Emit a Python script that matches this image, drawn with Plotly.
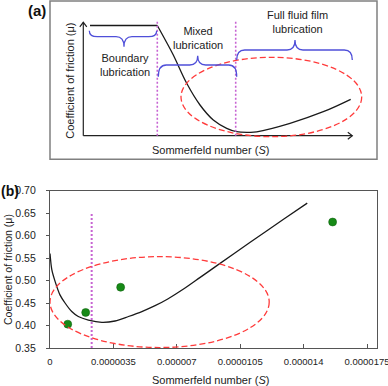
import plotly.graph_objects as go

# ---------------- Panel (b) data ----------------
S_fit_e6 = [0, 0.1, 0.28, 0.55, 0.83, 1.2, 1.56, 2.12, 2.86, 3.59, 4.33, 5.07, 5.8, 6.5, 7.37, 8.29, 9.21, 11.05, 12.89, 14.2]
mu_fit = [0.56, 0.524, 0.498, 0.468, 0.45, 0.431, 0.42, 0.412, 0.407, 0.41, 0.42, 0.431, 0.444, 0.459, 0.481, 0.507, 0.533, 0.585, 0.636, 0.672]
S_meas_e6 = [0.98, 1.97, 3.9, 15.6]
mu_meas = [0.403, 0.429, 0.485, 0.63]
S_transition_e6 = 2.3
mu_transition_top = 0.648
ellipse_b_S_e6 = [0.0, 12.1]
ellipse_b_mu = [0.351, 0.553]
x_tickvals_e6 = [0, 3.5, 7, 10.5, 14, 17.5]
x_ticktext = ["0", "0.0000035", "0.000007", "0.0000105", "0.000014", "0.0000175"]
y_ticks = [0.35, 0.40, 0.45, 0.50, 0.55, 0.60, 0.65, 0.70]

# ---------------- Panel (a) schematic (arbitrary units) ----------------
a_flat_S = [40, 107.3]
a_flat_mu = [133.8, 133.8]
a_curve_S = [107.3, 115.3, 123.3, 136.7, 150, 163.3, 176.7, 186.7, 200, 206.7, 240, 273.3, 300.7]
a_curve_mu = [133.8, 119.3, 104.3, 76, 54.3, 39.3, 31, 27.6, 27, 27.5, 36, 47.6, 60]
a_origin = [33.3, 23.6]
a_xaxis_end = 302.3
a_yaxis_end = 137.0
a_regime_bounds = [107.3, 185.7]
a_regime_tops = [137.5, 139.3]
a_ellipse_S = [131, 311.7]
a_ellipse_mu = [22.6, 102]
# braces: (x0, x1, tip x, end y, body y, tip y)
a_braces = [
    (39.3, 106.7, 74, 128.6, 122.6, 112.6),
    (108.3, 186.7, 147.7, 82.6, 94.3, 103.6),
    (186.7, 302.3, 245, 99.3, 109.3, 119.3),
]
a_brace_labels = ["Boundary<br>lubrication", "Mixed<br>lubrication", "Full fluid film<br>lubrication"]
a_brace_label_pos = [(75, 94.3), (147.7, 121), (247.3, 137.3)]

FONT = "Liberation Sans Narrow, Arial Narrow, Liberation Sans, Arial, sans-serif"
BLUE = "#4F4FD9"
RED = "#FF3B3B"
PINK = "#C764D2"
GREEN = "#178A17"

S_fit = [v * 1e-6 for v in S_fit_e6]
S_meas = [v * 1e-6 for v in S_meas_e6]

fig = go.Figure()

# ---- panel (b) traces ----
fig.add_trace(go.Scatter(x=S_fit, y=mu_fit, mode="lines", line=dict(color="#1a1a1a", width=1.3, shape="spline", smoothing=0.8),
                         xaxis="x", yaxis="y", hoverinfo="skip"))
fig.add_trace(go.Scatter(x=[S_transition_e6 * 1e-6] * 2, y=[0.35, mu_transition_top], mode="lines",
                         line=dict(color=PINK, width=2, dash="2px,2px"), xaxis="x", yaxis="y"))
fig.add_trace(go.Scatter(x=S_meas, y=mu_meas, mode="markers",
                         marker=dict(color=GREEN, size=8, line=dict(color="#0d5c0d", width=0.5)),
                         xaxis="x", yaxis="y"))

# ---- panel (a) traces ----
fig.add_trace(go.Scatter(x=a_flat_S, y=a_flat_mu, mode="lines", line=dict(color="#1a1a1a", width=1.3),
                         xaxis="x2", yaxis="y2"))
fig.add_trace(go.Scatter(x=a_curve_S, y=a_curve_mu, mode="lines", line=dict(color="#1a1a1a", width=1.3, shape="spline"),
                         xaxis="x2", yaxis="y2"))
ox, oy = a_origin
# axes with chevron arrowheads
fig.add_trace(go.Scatter(x=[ox, ox, None, ox - 3.5, ox, ox + 3.5],
                         y=[oy, a_yaxis_end, None, a_yaxis_end - 4.5, a_yaxis_end, a_yaxis_end - 4.5],
                         mode="lines", line=dict(color="#222", width=1.2), xaxis="x2", yaxis="y2"))
fig.add_trace(go.Scatter(x=[ox, a_xaxis_end, None, a_xaxis_end - 4.5, a_xaxis_end, a_xaxis_end - 4.5],
                         y=[oy, oy, None, oy + 3.5, oy, oy - 3.5],
                         mode="lines", line=dict(color="#222", width=1.2), xaxis="x2", yaxis="y2"))
for bx, top in zip(a_regime_bounds, a_regime_tops):
    fig.add_trace(go.Scatter(x=[bx, bx], y=[oy, top], mode="lines",
                             line=dict(color=PINK, width=1.6, dash="2px,2px"), xaxis="x2", yaxis="y2"))

shapes = []
# panel (a) frame
shapes.append(dict(type="rect", xref="x2 domain", yref="y2 domain", x0=0, x1=1, y0=0, y1=1,
                   line=dict(color="#808080", width=1.5)))
# ellipses
shapes.append(dict(type="circle", xref="x", yref="y", x0=ellipse_b_S_e6[0] * 1e-6, x1=ellipse_b_S_e6[1] * 1e-6,
                   y0=ellipse_b_mu[0], y1=ellipse_b_mu[1], line=dict(color=RED, width=1.3, dash="6px,3px")))
shapes.append(dict(type="circle", xref="x2", yref="y2", x0=a_ellipse_S[0], x1=a_ellipse_S[1],
                   y0=a_ellipse_mu[0], y1=a_ellipse_mu[1], line=dict(color=RED, width=1.3, dash="6px,3px")))
# braces
r = 8
for (x0, x1, xt, ye, yb, yt) in a_braces:
    path = (f"M {x0},{ye} Q {x0},{yb} {x0 + r},{yb} L {xt - r},{yb} Q {xt},{yb} {xt},{yt} "
            f"Q {xt},{yb} {xt + r},{yb} L {x1 - r},{yb} Q {x1},{yb} {x1},{ye}")
    shapes.append(dict(type="path", xref="x2", yref="y2", path=path, line=dict(color=BLUE, width=1.3)))

C = dict(xanchor="center", yanchor="middle", showarrow=False)
annotations = []
for txt, (tx, ty) in zip(a_brace_labels, a_brace_label_pos):
    annotations.append(dict(text=txt, x=tx, y=ty, xref="x2", yref="y2",
                            font=dict(family=FONT, size=11, color="#222"), **C))
annotations += [
    dict(text="Coefficient of friction (μ)", x=20, y=78.6, xref="x2", yref="y2", textangle=-90,
         font=dict(family=FONT, size=11, color="#222"), **C),
    dict(text="Sommerfeld number (<i>S</i>)", x=160, y=9.3, xref="x2", yref="y2",
         font=dict(family=FONT, size=11, color="#222"), **C),
    dict(text="<b>(a)</b>", x=(37 - 50) / 327, y=(348 - 11) / 347, xref="paper", yref="paper",
         font=dict(family="Liberation Sans, Arial, sans-serif", size=15, color="#111"), **C),
    dict(text="<b>(b)</b>", x=(9.5 - 50) / 327, y=(348 - 191) / 347, xref="paper", yref="paper",
         font=dict(family="Liberation Sans, Arial, sans-serif", size=14, color="#111"), **C),
    dict(text="Coefficient of friction (μ)", x=(8 - 50) / 327, y=(348 - 270) / 347, xref="paper", yref="paper",
         textangle=-90, font=dict(family=FONT, size=10.5, color="#222"), **C),
    dict(text="Sommerfeld number (<i>S</i>)", x=(210 - 50) / 327, y=(348 - 380) / 347, xref="paper", yref="paper",
         font=dict(family=FONT, size=11, color="#222"), **C),
]

fig.update_layout(
    width=388, height=386,
    margin=dict(l=50, r=11, t=1, b=38, autoexpand=False),
    plot_bgcolor="white", paper_bgcolor="white",
    showlegend=False,
    shapes=shapes, annotations=annotations,
    font=dict(family=FONT, size=10, color="#222"),
    xaxis=dict(domain=[0, 1], anchor="y", range=[0, 18.05e-6], tickvals=[v * 1e-6 for v in x_tickvals_e6],
               ticktext=x_ticktext, ticks="inside", ticklen=4, tickcolor="#555", showgrid=False, zeroline=False,
               showline=True, mirror=True, linecolor="#555", linewidth=1.3, tickfont=dict(family=FONT, size=9.5),
               ticklabelstandoff=4, automargin=False, ticklabeloverflow="allow"),
    yaxis=dict(domain=[0, 157.5 / 347], anchor="x", range=[0.35, 0.70], tickvals=y_ticks, tickformat=".2f",
               ticks="outside", ticklen=3, tickcolor="#555", showgrid=False, zeroline=False,
               showline=True, mirror=True, linecolor="#555", linewidth=1.3, tickfont=dict(family=FONT, size=10.5),
               ticklabelstandoff=8, automargin=False, ticklabeloverflow="allow"),
    xaxis2=dict(domain=[0, 1], anchor="y2", range=[0, 327], visible=False, fixedrange=True, automargin=False),
    yaxis2=dict(domain=[(348 - 159.3) / 347, 1], anchor="x2", range=[0, 158.3], visible=False, fixedrange=True,
                automargin=False),
)

fig.write_html("out.html", config={"displayModeBar": False},
               post_script="document.body.style.margin='0';document.body.style.overflow='hidden';")
